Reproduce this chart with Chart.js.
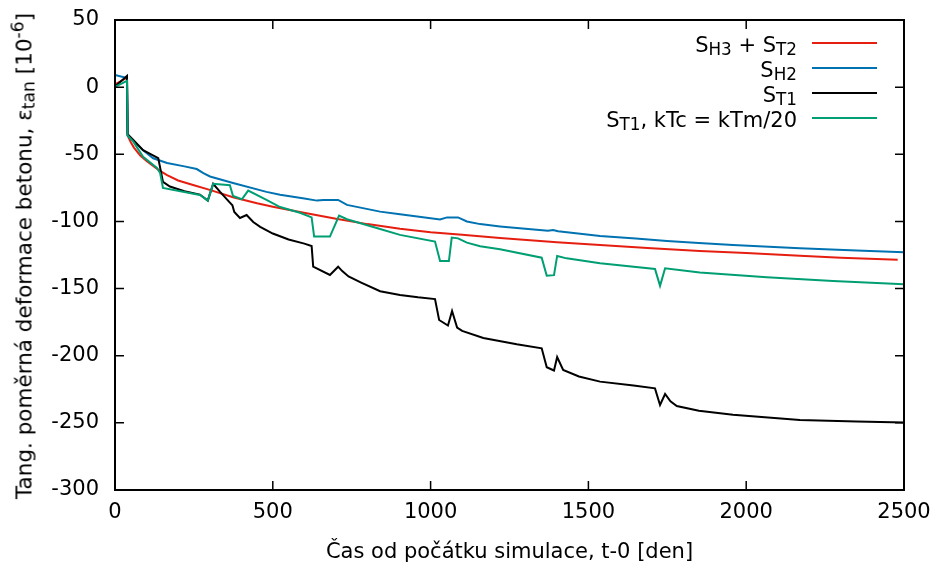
<!DOCTYPE html>
<html>
<head>
<meta charset="utf-8">
<script src="https://cdn.jsdelivr.net/npm/chart.js@4"></script>
<style>
  html, body { margin: 0; padding: 0; background: #fff; }
  #wrap { position: relative; width: 934px; height: 565px; font-family: "DejaVu Sans", sans-serif; color: #000; }
  #chart { position: absolute; left: 0; top: 0; }
  .ytitle { position: absolute; left: 24px; top: 256px; transform: translate(-50%, -50%) rotate(-90deg); white-space: nowrap; font-size: 21.5px; }
  .legend { position: absolute; right: 57px; top: 31px; font-size: 21px; }
  .legend .row { display: flex; align-items: center; justify-content: flex-end; height: 24.8px; }
  .legend .name { position: relative; top: 2px; white-space: nowrap; }
  .legend .swatch { width: 65px; height: 0; border-top: 2px solid; margin-left: 15px; }
  sub, sup { font-size: 0.8em; line-height: 0; }
  sub { vertical-align: -0.2em; }
  sup { vertical-align: 0.45em; }
</style>
</head>
<body>
<div id="wrap">
  <canvas id="chart" width="934" height="565"></canvas>
  <div class="ytitle">Tang. poměrná deformace betonu, ε<sub>tan</sub> [10<sup>-6</sup>]</div>
  <div class="legend" id="legend"></div>
</div>
<script>
// time since start of simulation [days] and tangential strain [1e-6]
const tRed = [0, 38, 40, 50, 60, 80, 100, 120, 140, 165, 200, 250, 300, 374, 450, 500, 586, 700, 800, 903, 1000, 1100, 1220, 1400, 1537, 1700, 1853, 2000, 2170, 2300, 2480];
const sRed = [2, 7, -36, -41, -45, -51, -55, -58.5, -62, -65.5, -69.5, -73, -76.5, -82, -86.5, -89, -93, -98, -102, -105.4, -108, -110, -112.3, -115.5, -117.5, -120, -122, -123.5, -125.5, -127, -128.5];

const tBlue = [0, 38, 40, 58, 89, 121, 165, 220, 259, 280, 301, 374, 480, 523, 600, 640, 660, 707, 735, 840, 903, 1030, 1052, 1087, 1115, 1157, 1220, 1300, 1372, 1388, 1404, 1537, 1650, 1749, 1850, 1958, 2170, 2350, 2500];
const sBlue = [9, 6.8, -36, -40, -47, -53, -56.5, -59, -61, -64, -66.5, -71.4, -78, -80.2, -83, -84.5, -84, -84, -87.7, -92.7, -94.7, -98.5, -97, -97, -100, -102, -103.7, -105.5, -107, -106.4, -107.3, -110.8, -112.8, -114.6, -116, -117.5, -120, -121.7, -123];

const tBlack = [0, 38, 40, 58, 89, 137, 152, 174, 220, 269, 294, 311, 333, 364, 372, 378, 396, 417, 438, 460, 500, 550, 600, 623, 628, 681, 707, 720, 740, 780, 840, 903, 960, 1014, 1027, 1055, 1068, 1084, 1100, 1167, 1273, 1352, 1368, 1391, 1401, 1420, 1470, 1537, 1643, 1711, 1727, 1743, 1760, 1780, 1850, 1958, 2170, 2350, 2500];
const sBlack = [0.5, 8.3, -35, -39.4, -47, -52.8, -70.6, -74, -77.5, -80, -84.5, -72, -78, -86, -88, -93, -97.4, -95.2, -100.4, -104, -109, -113.5, -116.5, -118.3, -133.7, -139.9, -133.7, -137, -141, -145.5, -152, -154.8, -156.5, -157.8, -173.4, -177.5, -166.7, -179, -181.5, -186.8, -191.5, -194.5, -208.6, -211, -201, -210.6, -215.5, -219.3, -222.2, -224.3, -236.7, -228.5, -234, -237.5, -241, -244, -247.8, -249, -249.8];

const tGreen = [0, 38, 40, 58, 89, 133, 143, 152, 269, 294, 311, 364, 374, 402, 422, 480, 523, 586, 623, 631, 681, 710, 735, 840, 903, 1014, 1030, 1058, 1067, 1087, 1115, 1157, 1220, 1352, 1368, 1391, 1401, 1431, 1537, 1711, 1727, 1743, 1853, 2065, 2275, 2500];
const sGreen = [0.3, 4.7, -36, -40.6, -51.8, -60.2, -64, -75, -80.3, -84.5, -72, -73, -81, -83.5, -77, -84, -89.3, -93.5, -97, -111.3, -111.3, -95.7, -98.4, -105.6, -110, -115, -129.5, -129.5, -112, -112.6, -115.8, -118.5, -120.7, -127, -140.4, -140, -125.7, -127.5, -131.2, -135.4, -148, -134.9, -138.1, -141.6, -144.3, -146.8];

const seriesNames = [
  'S<sub>H3</sub> + S<sub>T2</sub>',
  'S<sub>H2</sub>',
  'S<sub>T1</sub>',
  'S<sub>T1</sub>, kTc = kTm/20'
];
const seriesColors = ['#e51e10', '#0072b2', '#000000', '#009e73'];
const xTicks = [0, 500, 1000, 1500, 2000, 2500];
const yTicks = [50, 0, -50, -100, -150, -200, -250, -300];

const FONT = { family: 'DejaVu Sans', size: 21 };

function pts(t, s) {
  return t.map((x, i) => ({ x: x, y: s[i] }));
}

// gnuplot-style frame: full border with inward ticks on all four sides
const frameTicks = {
  id: 'frameTicks',
  afterDatasetsDraw(chart) {
    const { ctx, chartArea: a, scales } = chart;
    const len = 9;
    ctx.save();
    ctx.strokeStyle = '#000';
    ctx.lineWidth = 1.5;
    ctx.beginPath();
    xTicks.forEach(v => {
      const px = scales.x.getPixelForValue(v);
      ctx.moveTo(px, a.bottom); ctx.lineTo(px, a.bottom - len);
      ctx.moveTo(px, a.top); ctx.lineTo(px, a.top + len);
    });
    yTicks.forEach(v => {
      const py = scales.y.getPixelForValue(v);
      ctx.moveTo(a.left, py); ctx.lineTo(a.left + len, py);
      ctx.moveTo(a.right, py); ctx.lineTo(a.right - len, py);
    });
    ctx.stroke();
    ctx.lineWidth = 2;
    ctx.strokeRect(a.left, a.top, a.right - a.left, a.bottom - a.top);
    ctx.restore();
  }
};

const datasets = [
  [tRed, sRed], [tBlue, sBlue], [tBlack, sBlack], [tGreen, sGreen]
].map((d, i) => ({
  label: seriesNames[i].replace(/<[^>]+>/g, ''),
  data: pts(d[0], d[1]),
  borderColor: seriesColors[i],
  borderWidth: 2,
  pointRadius: 0,
  tension: 0,
  fill: false,
  order: 3 - i
}));

// tick labels may overhang the plot frame; the outer layout padding handles that
function noOverhang(scale) {
  scale.paddingLeft = 0;
  scale.paddingRight = 0;
  scale.paddingTop = 0;
  scale.paddingBottom = 0;
}

const chart = new Chart(document.getElementById('chart'), {
  type: 'line',
  data: { datasets: datasets },
  options: {
    responsive: false,
    animation: false,
    layout: { padding: { top: 20, right: 30, left: 0, bottom: 0 } },
    plugins: { legend: { display: false }, tooltip: { enabled: false } },
    scales: {
      x: {
        type: 'linear',
        min: 0,
        max: 2500,
        afterBuildTicks(scale) { scale.ticks = xTicks.map(v => ({ value: v })); },
        ticks: { font: FONT, color: '#000', padding: 10, maxRotation: 0, callback: v => String(v) },
        grid: { display: false, drawTicks: false },
        border: { display: false },
        title: {
          display: true,
          text: 'Čas od počátku simulace, t-0 [den]',
          font: FONT,
          color: '#000',
          padding: { top: 0, bottom: 0 }
        },
        afterFit(scale) { scale.height = 75; noOverhang(scale); }
      },
      y: {
        type: 'linear',
        min: -300,
        max: 50,
        afterBuildTicks(scale) { scale.ticks = yTicks.map(v => ({ value: v })); },
        ticks: { font: FONT, color: '#000', padding: 16, callback: v => String(v) },
        grid: { display: false, drawTicks: false },
        border: { display: false },
        afterFit(scale) { scale.width = 115; noOverhang(scale); }
      }
    }
  },
  plugins: [frameTicks]
});

// legend with subscripts, built from the chart's datasets
const legend = document.getElementById('legend');
chart.data.datasets.forEach((ds, i) => {
  const row = document.createElement('div');
  row.className = 'row';
  const name = document.createElement('span');
  name.className = 'name';
  name.innerHTML = seriesNames[i];
  const swatch = document.createElement('span');
  swatch.className = 'swatch';
  swatch.style.borderTopColor = ds.borderColor;
  row.appendChild(name);
  row.appendChild(swatch);
  legend.appendChild(row);
});
</script>
</body>
</html>
